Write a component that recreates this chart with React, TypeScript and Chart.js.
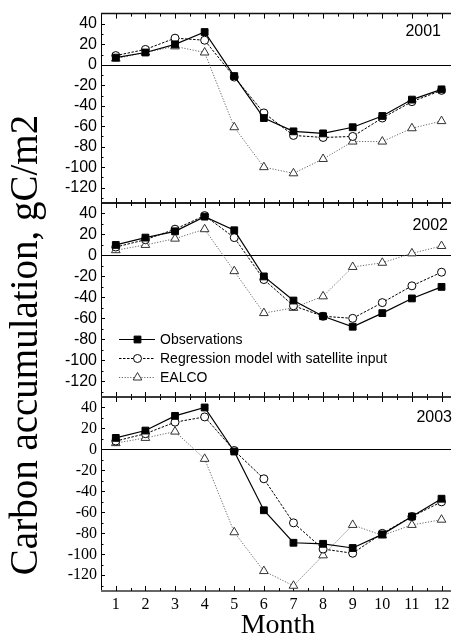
import React, { useEffect, useRef } from "react";
import { Chart, registerables } from "chart.js";

Chart.register(...registerables);

// ---------- data ----------
const months = [1, 2, 3, 4, 5, 6, 7, 8, 9, 10, 11, 12];
const xMinorTicks = [1.5, 2.5, 3.5, 4.5, 5.5, 6.5, 7.5, 8.5, 9.5, 10.5, 11.5];
const yTicks = [-120, -100, -80, -60, -40, -20, 0, 20, 40];
const yMinorTicks = [-130, -110, -90, -70, -50, -30, -10, 10, 30];
const years = ["2001", "2002", "2003"];
const seriesLabels = ["Observations", "Regression model with satellite input", "EALCO"];

const obs2001 = [7, 12, 20, 32, -11, -52, -65, -67, -61, -50, -34, -24];
const reg2001 = [9, 15, 26, 24, -12, -47, -69, -71, -70, -52, -36, -25];
const ealco2001 = [6, 12, 18, 12, -61, -100, -106, -92, -75, -75, -62, -55];

const obs2002 = [10, 17, 23, 37, 24, -20, -43, -58, -68, -55, -41, -30];
const reg2002 = [8, 15, 25, 38, 17, -23, -48, -58, -60, -45, -29, -16];
const ealco2002 = [5, 10, 16, 25, -15, -55, -50, -39, -11, -7, 2, 9];

const obs2003 = [11, 18, 32, 40, -2, -58, -89, -90, -94, -81, -64, -47];
const reg2003 = [8, 15, 26, 31, -1, -28, -70, -95, -99, -80, -64, -50];
const ealco2003 = [6, 11, 17, -9, -79, -116, -130, -101, -72, -82, -72, -67];

const yearSeries = [
  [obs2001, reg2001, ealco2001],
  [obs2002, reg2002, ealco2002],
  [obs2003, reg2003, ealco2003],
];

const yTitle = "Carbon accumulation, gC/m2";
const xTitle = "Month";

// ---------- layout / style ----------
const W = 457;
const H = 639;
const SANS = "'Liberation Sans', Arial, sans-serif";
const SERIF = "'Liberation Serif', 'Times New Roman', serif";

const panels = [
  { top: 9, bottom: 203, yearRight: 441, yearY: 32, tickFont: SANS, showX: false, legend: false, title: false },
  { top: 203, bottom: 397, yearRight: 448, yearY: 226, tickFont: SANS, showX: false, legend: true, title: true },
  { top: 397, bottom: 591, yearRight: 452, yearY: 418, tickFont: SERIF, showX: true, legend: false, title: false },
];

const seriesStyle = [
  { borderColor: "#000", borderWidth: 1.2, borderDash: [] as number[], pointStyle: "rect", pointRadius: 4.8, pointBackgroundColor: "#000", pointBorderColor: "#000" },
  { borderColor: "#000", borderWidth: 1, borderDash: [2.5, 1.5], pointStyle: "circle", pointRadius: 4, pointBackgroundColor: "#fff", pointBorderColor: "#000" },
  { borderColor: "#666", borderWidth: 1, borderDash: [1.2, 1.6], pointStyle: "triangle", pointRadius: 5, pointBackgroundColor: "#fff", pointBorderColor: "#333" },
];

function line(ctx: CanvasRenderingContext2D, x1: number, y1: number, x2: number, y2: number) {
  ctx.beginPath();
  ctx.moveTo(x1, y1);
  ctx.lineTo(x2, y2);
  ctx.stroke();
}

function drawMarker(ctx: CanvasRenderingContext2D, style: string, x: number, y: number, r: number, fill: string, stroke: string) {
  ctx.save();
  ctx.setLineDash([]);
  ctx.fillStyle = fill;
  ctx.strokeStyle = stroke;
  ctx.lineWidth = 1;
  ctx.beginPath();
  if (style === "rect") {
    const s = r * Math.SQRT1_2;
    ctx.rect(x - s, y - s, 2 * s, 2 * s);
  } else if (style === "circle") {
    ctx.arc(x, y, r, 0, Math.PI * 2);
  } else {
    const h = r * 1.5;
    const w = (r * Math.sqrt(3)) / 2;
    ctx.moveTo(x, y - r);
    ctx.lineTo(x + w, y - r + h);
    ctx.lineTo(x - w, y - r + h);
    ctx.closePath();
  }
  ctx.fill();
  ctx.stroke();
  ctx.restore();
}

function makePlugin(pi: number) {
  const p = panels[pi];
  return {
    id: "frame" + pi,
    beforeDatasetsDraw(chart: any) {
      const { ctx, chartArea: a, scales } = chart;
      const x = scales.x;
      const y = scales.y;
      ctx.save();
      ctx.strokeStyle = "#000";
      ctx.setLineDash([]);
      // zero line
      ctx.lineWidth = 1;
      const y0 = Math.round(y.getPixelForValue(0)) + 0.5;
      line(ctx, a.left, y0, a.right, y0);
      // left axis
      line(ctx, a.left + 0.5, a.top, a.left + 0.5, a.bottom);
      // top / bottom frame
      ctx.lineWidth = 1.5;
      ctx.strokeStyle = pi === 2 ? "#333" : "#111";
      line(ctx, a.left, a.top, a.right, a.top);
      ctx.strokeStyle = pi === 2 ? "#666" : "#111";
      ctx.lineWidth = pi === 2 ? 2 : 1.5;
      line(ctx, a.left, a.bottom, a.right, a.bottom);
      ctx.strokeStyle = "#000";
      ctx.lineWidth = 1;
      // x ticks (inward, top and bottom)
      months.forEach((m) => {
        const px = Math.round(x.getPixelForValue(m)) + 0.5;
        line(ctx, px, a.top, px, a.top + 5);
        line(ctx, px, a.bottom, px, a.bottom - 5);
      });
      xMinorTicks.forEach((m) => {
        const px = Math.round(x.getPixelForValue(m)) + 0.5;
        line(ctx, px, a.top, px, a.top + 3);
        line(ctx, px, a.bottom, px, a.bottom - 3);
      });
      // y ticks (inward)
      yTicks.forEach((v) => {
        const py = Math.round(y.getPixelForValue(v)) + 0.5;
        line(ctx, a.left, py, a.left + 4, py);
      });
      yMinorTicks.forEach((v) => {
        const py = Math.round(y.getPixelForValue(v)) + 0.5;
        line(ctx, a.left, py, a.left + 2.5, py);
      });
      ctx.restore();
    },
    afterDraw(chart: any) {
      const { ctx } = chart;
      ctx.save();
      ctx.fillStyle = "#000";
      // year label
      ctx.font = `16px ${SANS}`;
      ctx.textAlign = "right";
      ctx.textBaseline = "middle";
      ctx.fillText(years[pi], p.yearRight, p.yearY);
      // legend
      if (p.legend) {
        const rows = [339, 358, 377];
        chart.data.datasets.forEach((ds: any, i: number) => {
          const st = seriesStyle[i];
          const ry = rows[i] + 0.5;
          ctx.save();
          ctx.strokeStyle = st.borderColor;
          ctx.lineWidth = st.borderWidth;
          ctx.setLineDash(st.borderDash);
          line(ctx, 119, ry, 155, ry);
          ctx.restore();
          drawMarker(ctx, st.pointStyle, 137.5, ry, st.pointRadius, st.pointBackgroundColor, st.pointBorderColor);
          ctx.font = `14px ${SANS}`;
          ctx.textAlign = "left";
          ctx.textBaseline = "middle";
          ctx.fillStyle = "#000";
          ctx.fillText(ds.label, 160, rows[i] + 1);
        });
      }
      // y title
      if (p.title) {
        ctx.save();
        ctx.translate(27, 345);
        ctx.rotate(-Math.PI / 2);
        ctx.font = `39px ${SERIF}`;
        ctx.textAlign = "center";
        ctx.textBaseline = "middle";
        ctx.fillText(yTitle, 0, 0);
        ctx.restore();
      }
      // x title
      if (p.showX) {
        ctx.font = `28px ${SERIF}`;
        ctx.textAlign = "center";
        ctx.textBaseline = "alphabetic";
        ctx.fillText(xTitle, 278, 633);
      }
      ctx.restore();
    },
  };
}

export default function App() {
  const refs = [useRef<HTMLCanvasElement>(null), useRef<HTMLCanvasElement>(null), useRef<HTMLCanvasElement>(null)];

  useEffect(() => {
    document.body.style.margin = "0";
    const charts: Chart[] = [];
    panels.forEach((p, pi) => {
      const canvas = refs[pi].current;
      if (!canvas) return;
      const xAxisH = p.showX ? H - p.bottom : 0;
      const chart = new Chart(canvas, {
        type: "line",
        data: {
          datasets: yearSeries[pi].map((vals, si) => ({
            label: seriesLabels[si],
            data: months.map((m, k) => ({ x: m, y: vals[k] })),
            ...seriesStyle[si],
            pointBorderWidth: 1,
            pointHoverRadius: seriesStyle[si].pointRadius,
            fill: false,
            tension: 0,
          })) as any,
        },
        options: {
          responsive: false,
          animation: false,
          events: [],
          layout: {
            padding: { left: 0, right: 0, top: p.top, bottom: H - p.bottom - xAxisH },
          },
          plugins: { legend: { display: false }, tooltip: { enabled: false }, title: { display: false } },
          scales: {
            x: {
              type: "linear",
              min: 0.5,
              max: 12.32,
              display: p.showX,
              grid: { display: false, drawTicks: false },
              border: { display: false },
              afterBuildTicks: (scale: any) => {
                scale.ticks = months.map((m) => ({ value: m }));
              },
              afterFit: (scale: any) => {
                if (p.showX) scale.height = xAxisH;
              },
              ticks: {
                font: { family: SERIF, size: 16 },
                color: "#000",
                padding: 4,
                maxRotation: 0,
                autoSkip: false,
                callback: (v: any) => String(v),
              },
            },
            y: {
              type: "linear",
              min: -135,
              max: 50,
              grid: { display: false, drawTicks: false },
              border: { display: false },
              afterBuildTicks: (scale: any) => {
                scale.ticks = yTicks.map((v) => ({ value: v }));
              },
              afterFit: (scale: any) => {
                scale.width = 101;
              },
              ticks: {
                font: { family: p.tickFont, size: 16 },
                color: "#000",
                padding: 4,
                autoSkip: false,
                callback: (v: any) => String(v),
              },
            },
          },
        },
        plugins: [makePlugin(pi)],
      } as any);
      charts.push(chart);
    });
    return () => charts.forEach((c) => c.destroy());
  }, []);

  return (
    <div style={{ position: "relative", width: W, height: H, overflow: "hidden", background: "#fff" }}>
      {refs.map((r, i) => (
        <canvas
          key={i}
          ref={r}
          width={W}
          height={H}
          style={{ position: "absolute", left: 0, top: 0, width: W, height: H }}
        />
      ))}
    </div>
  );
}
